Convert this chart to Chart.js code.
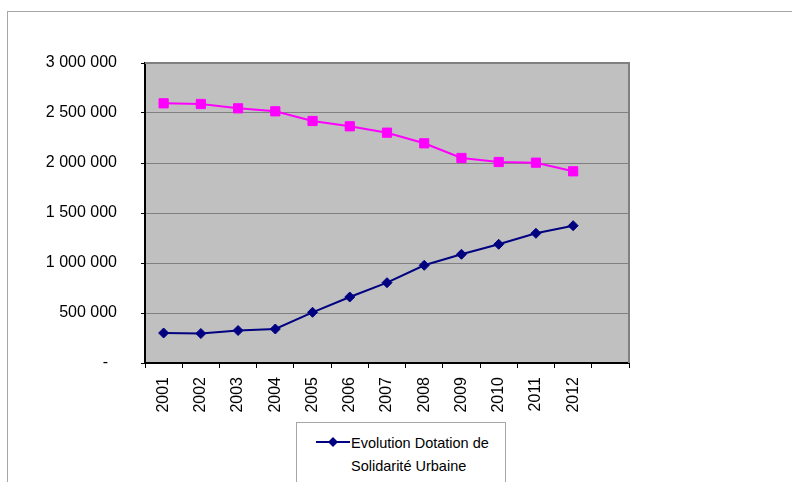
<!DOCTYPE html>
<html>
<head>
<meta charset="utf-8">
<script src="https://cdn.jsdelivr.net/npm/chart.js@4/dist/chart.umd.min.js"></script>
<style>
  html, body { margin: 0; padding: 0; background: #fff; }
  #wrap { position: relative; width: 792px; height: 482px; overflow: hidden; }
  #frame { position: absolute; left: 7px; top: 11px; width: 800px; height: 500px; border: 1px solid #a6a6a6; box-sizing: border-box; }
  canvas { position: absolute; left: 0; top: 0; }
  #legend { position: absolute; left: 296px; top: 422px; width: 210px; height: 80px; border: 1px solid #a6a6a6; box-sizing: border-box; background: #fff;
    font-family: "Liberation Sans", Arial, sans-serif; font-size: 14.5px; color: #000; }
  #legend svg { position: absolute; left: 19px; top: 12px; }
  #legend .t { position: absolute; left: 54px; top: 9px; line-height: 23px; white-space: nowrap; }
</style>
</head>
<body>
<div id="wrap">
  <div id="frame"></div>
  <canvas id="c" width="792" height="482"></canvas>
  <div id="legend">
    <svg width="34" height="14" viewBox="0 0 34 14"><line x1="0" y1="7" x2="34" y2="7" stroke="#000080" stroke-width="2"/><polygon points="17,2 22,7 17,12 12,7" fill="#000080"/></svg>
    <div class="t">Evolution Dotation de<br>Solidarité Urbaine</div>
  </div>
</div>
<script>
const years = ['2001','2002','2003','2004','2005','2006','2007','2008','2009','2010','2011','2012',''];
const dsuValues = [300000, 295000, 325000, 340000, 507000, 660000, 803000, 977000, 1087000, 1187000, 1297000, 1373000, null];
const otherValues = [2597000, 2590000, 2547000, 2517000, 2420000, 2367000, 2303000, 2197000, 2050000, 2010000, 2003000, 1917000, null];
const yTicks = [0, 500000, 1000000, 1500000, 2000000, 2500000, 3000000];
const seriesNames = ['Evolution Dotation de Solidarité Urbaine', ''];

function fmt(v) {
  if (v === 0) return '-  ';
  return String(v).replace(/\B(?=(\d{3})+(?!\d))/g, ' ');
}

const plotBg = {
  id: 'plotBg',
  beforeDraw(chart) {
    const a = chart.chartArea, ctx = chart.ctx;
    ctx.save();
    ctx.fillStyle = '#c0c0c0';
    ctx.fillRect(a.left, a.top, a.right - a.left, a.bottom - a.top);
    ctx.restore();
  },
  afterDatasetsDraw(chart) {
    const a = chart.chartArea, ctx = chart.ctx;
    ctx.save();
    ctx.strokeStyle = '#808080';
    ctx.lineWidth = 2;
    ctx.beginPath();
    ctx.moveTo(a.left, a.top);
    ctx.lineTo(a.right, a.top);
    ctx.lineTo(a.right, a.bottom);
    ctx.stroke();
    ctx.restore();
  }
};

Chart.defaults.font.family = '"Liberation Sans", Arial, sans-serif';
Chart.defaults.color = '#000';

new Chart(document.getElementById('c'), {
  type: 'line',
  data: {
    labels: years,
    datasets: [
      {
        label: seriesNames[0],
        data: dsuValues,
        borderColor: '#000080',
        backgroundColor: '#000080',
        borderWidth: 2,
        pointStyle: 'rectRot',
        pointRadius: 5,
        pointHoverRadius: 5,
        pointBorderWidth: 1,
        tension: 0
      },
      {
        label: seriesNames[1],
        data: otherValues,
        borderColor: '#ff00ff',
        backgroundColor: '#ff00ff',
        borderWidth: 2,
        pointStyle: 'rect',
        pointRadius: 6.5,
        pointHoverRadius: 6.5,
        pointBorderWidth: 1,
        tension: 0
      }
    ]
  },
  options: {
    responsive: false,
    animation: false,
    events: [],
    layout: { padding: { left: 0, top: 63, right: 163, bottom: 59 } },
    plugins: { legend: { display: false }, tooltip: { enabled: false } },
    scales: {
      x: {
        type: 'category',
        offset: true,
        afterFit(s) { s.height = 60; },
        grid: { offset: true, drawOnChartArea: false, drawTicks: true, tickLength: 5, tickColor: '#000', lineWidth: 1 },
        border: { display: true, color: '#000', width: 2 },
        ticks: { minRotation: 90, maxRotation: 90, autoSkip: false, padding: 9, font: { size: 16 } }
      },
      y: {
        min: 0,
        max: 3000000,
        afterFit(s) { s.width = 145; },
        afterBuildTicks(s) { s.ticks = yTicks.map(v => ({ value: v })); },
        grid: { color: '#808080', lineWidth: 1, drawTicks: true, tickLength: 4, tickColor: '#000' },
        border: { display: true, color: '#000', width: 2 },
        ticks: { callback: v => fmt(v), padding: 24, font: { size: 16 } }
      }
    }
  },
  plugins: [plotBg]
});
</script>
</body>
</html>
